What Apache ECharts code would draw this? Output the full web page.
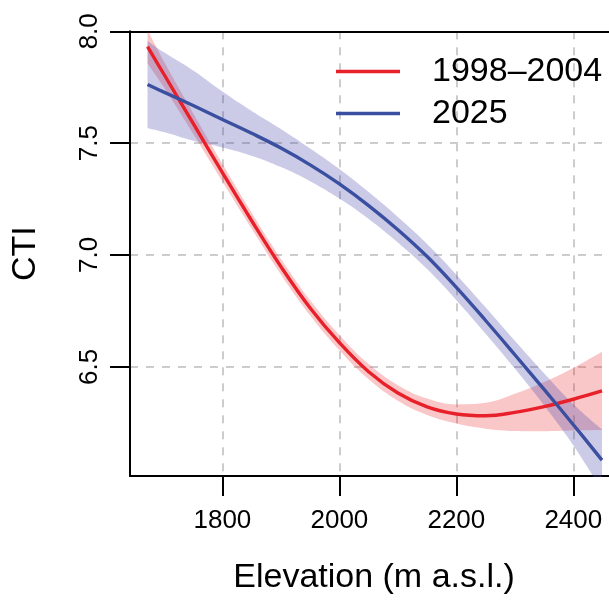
<!DOCTYPE html>
<html>
<head>
<meta charset="utf-8">
<script src="https://cdn.jsdelivr.net/npm/echarts@6/dist/echarts.min.js"></script>
<style>
  html, body { margin: 0; padding: 0; background: #fff; }
  #chart { width: 609px; height: 600px; }
</style>
</head>
<body>
<div id="chart"></div>
<script>
// Elevation (m a.s.l.) at which the fitted curves are sampled
const elevation = [1672, 1700, 1750, 1800, 1850, 1900, 1950, 2000, 2050, 2100, 2150, 2200, 2250, 2300, 2350, 2400, 2449];

// 1998–2004 survey: fitted CTI and its confidence band
const ctiOld      = [7.931, 7.808, 7.588, 7.368, 7.153, 6.948, 6.763, 6.608, 6.478, 6.383, 6.321, 6.289, 6.281, 6.296, 6.322, 6.355, 6.392];
const ctiOldLower = [7.856, 7.750, 7.542, 7.328, 7.117, 6.913, 6.729, 6.574, 6.444, 6.348, 6.284, 6.246, 6.223, 6.213, 6.212, 6.215, 6.217];
const ctiOldUpper = [8.006, 7.866, 7.634, 7.408, 7.189, 6.983, 6.797, 6.642, 6.512, 6.418, 6.358, 6.332, 6.339, 6.379, 6.432, 6.495, 6.567];

// 2025 survey: fitted CTI and its confidence band
const ctiNew      = [7.762, 7.728, 7.668, 7.606, 7.544, 7.478, 7.403, 7.318, 7.221, 7.113, 6.993, 6.855, 6.707, 6.554, 6.399, 6.241, 6.083];
const ctiNewLower = [7.567, 7.550, 7.511, 7.481, 7.444, 7.393, 7.330, 7.252, 7.161, 7.056, 6.937, 6.798, 6.648, 6.492, 6.327, 6.149, 5.945];
const ctiNewUpper = [7.957, 7.906, 7.825, 7.731, 7.644, 7.563, 7.476, 7.384, 7.281, 7.170, 7.049, 6.912, 6.766, 6.616, 6.471, 6.333, 6.221];

const seriesNames = ['1998–2004', '2025'];
const xTicks = [1800, 2000, 2200, 2400];
const yTicks = [6.5, 7.0, 7.5, 8.0];

const FONT = 'Liberation Sans, Arial, sans-serif';
const RED = '#E8202A';
const BLUE = '#3B4FA0';
const RED_BAND = 'rgba(236,30,38,0.25)';
const BLUE_BAND = 'rgba(70,70,170,0.28)';
const SMOOTH = 0.4;

const pairs = (ys) => elevation.map((x, i) => [x, ys[i]]);
// Band rows are stored as [CTI, elevation] so that stacking acts on the CTI dimension.
const bandRows = (ys) => elevation.map((x, i) => [ys[i], x]);
const bandWidths = (lo, hi) => elevation.map((x, i) => [+(hi[i] - lo[i]).toFixed(4), x]);

function bandBase(stack, lower) {
  return {
    type: 'line', stack: stack, data: bandRows(lower), encode: { x: 1, y: 0 },
    smooth: SMOOTH, symbol: 'none', silent: true, lineStyle: { opacity: 0 },
    emphasis: { disabled: true }, z: 1
  };
}
function bandFill(stack, lower, upper, color) {
  return {
    type: 'line', stack: stack, data: bandWidths(lower, upper), encode: { x: 1, y: 0 },
    smooth: SMOOTH, symbol: 'none', silent: true, lineStyle: { opacity: 0 },
    areaStyle: { color: color, opacity: 1 },
    emphasis: { disabled: true }, z: 1
  };
}
function fitLine(name, ys, color) {
  return {
    type: 'line', name: name, data: pairs(ys), smooth: SMOOTH,
    symbol: 'none', silent: true,
    lineStyle: { color: color, width: 3.4 },
    itemStyle: { color: color },
    emphasis: { disabled: true }, z: 3
  };
}

const gridLine = { show: true, lineStyle: { color: '#cccccc', width: 2, type: [8, 8] } };
const blackLine = { show: true, lineStyle: { color: '#000', width: 2 } };

const chart = echarts.init(document.getElementById('chart'), null, { renderer: 'canvas' });
chart.setOption({
  animation: false,
  backgroundColor: '#fff',
  grid: { left: 130, top: 31.3, right: 0, bottom: 120.7, containLabel: false },
  legend: {
    data: seriesNames,
    orient: 'vertical',
    left: 336, top: 54.5, padding: 0,
    icon: 'rect',
    itemWidth: 64, itemHeight: 3.5, itemGap: 8,
    selectedMode: false,
    textStyle: { fontFamily: FONT, fontSize: 34, color: '#000', padding: [0, 0, 0, 27] }
  },
  xAxis: [{
    type: 'value', min: 1642, max: 2461, position: 'bottom',
    axisLine: blackLine,
    axisTick: { show: true, length: 20, lineStyle: { color: '#000', width: 2 }, customValues: xTicks },
    axisLabel: {
      customValues: xTicks, fontFamily: FONT, fontSize: 26, color: '#000', margin: 32,
      formatter: (v) => String(v)
    },
    splitLine: gridLine,
    name: 'Elevation (m a.s.l.)', nameLocation: 'middle', nameGap: 85,
    nameTextStyle: { fontFamily: FONT, fontSize: 34, color: '#000', padding: [0, 0, 0, 9] }
  }, {
    type: 'value', min: 1642, max: 2461, position: 'top',
    axisLine: blackLine, axisTick: { show: false }, axisLabel: { show: false },
    splitLine: { show: false }
  }],
  yAxis: {
    type: 'value', min: 6.0118, max: 8.0,
    axisLine: blackLine,
    axisTick: { show: true, length: 20, lineStyle: { color: '#000', width: 2 }, customValues: yTicks },
    axisLabel: {
      customValues: yTicks, rotate: 90, fontFamily: FONT, fontSize: 26, color: '#000', margin: 27,
      formatter: (v) => v.toFixed(1)
    },
    splitLine: gridLine,
    name: 'CTI', nameLocation: 'middle', nameGap: 87,
    nameTextStyle: { fontFamily: FONT, fontSize: 34, color: '#000' }
  },
  series: [
    bandBase('old', ctiOldLower),
    bandFill('old', ctiOldLower, ctiOldUpper, RED_BAND),
    bandBase('new', ctiNewLower),
    bandFill('new', ctiNewLower, ctiNewUpper, BLUE_BAND),
    fitLine(seriesNames[0], ctiOld, RED),
    fitLine(seriesNames[1], ctiNew, BLUE)
  ]
});
</script>
</body>
</html>
